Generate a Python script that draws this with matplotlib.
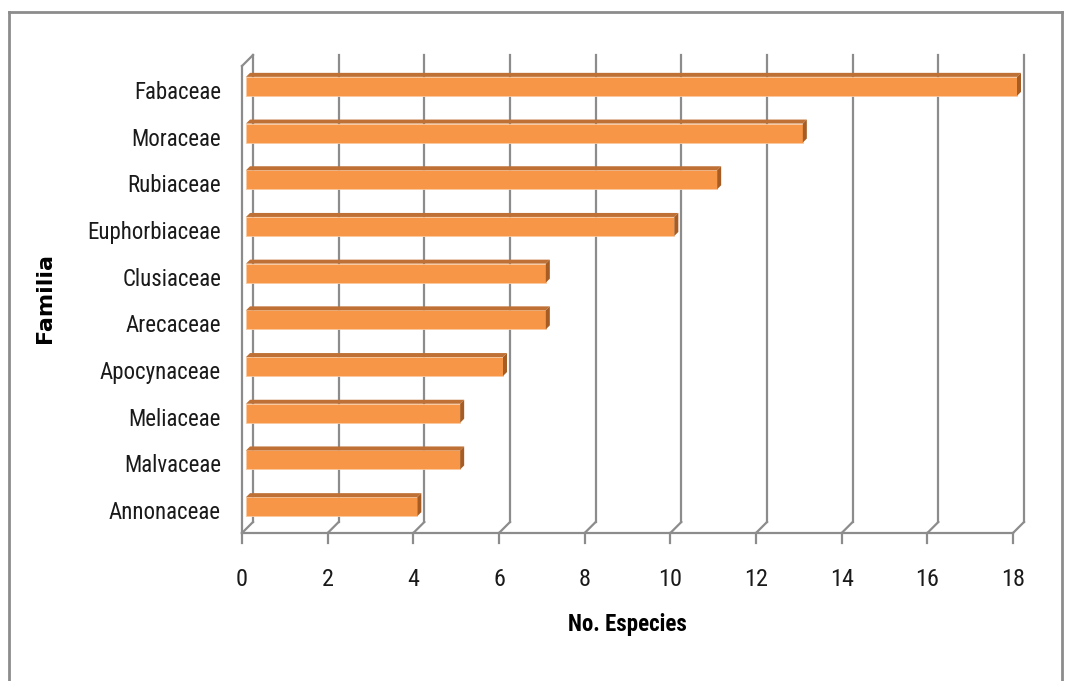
import matplotlib
matplotlib.use("Agg")
import matplotlib.pyplot as plt
from matplotlib.patches import Polygon, Rectangle
from matplotlib.lines import Line2D
from matplotlib import font_manager

# ---- data ----
families = ["Annonaceae", "Malvaceae", "Meliaceae", "Apocynaceae", "Arecaceae",
            "Clusiaceae", "Euphorbiaceae", "Rubiaceae", "Moraceae", "Fabaceae"]
species = [4, 5, 5, 6, 7, 7, 10, 11, 13, 18]
xticks = [0, 2, 4, 6, 8, 10, 12, 14, 16, 18]
xlabel = "No. Especies"
ylabel = "Familia"

# pick a narrow font if any is installed
available = {f.name for f in font_manager.fontManager.ttflist}
narrow = None
for cand in ["Liberation Sans Narrow", "Roboto Condensed", "Open Sans Condensed",
             "Noto Sans Condensed", "DejaVu Sans Condensed"]:
    if cand in available:
        narrow = cand
        break
if narrow is None:
    narrow = "Liberation Sans"
    lab_fs, tick_fs, xl_fs = 13.5, 14, 14
else:
    lab_fs, tick_fs, xl_fs = 16.5, 17.5, 16.5

W, H = 1065, 681
fig = plt.figure(figsize=(W / 100, H / 100), dpi=100)
fig.patch.set_facecolor("white")

left_px, right_px, bottom_px, top_px = 242, 1013, 533, 66
ax = fig.add_axes([left_px / W, 1 - bottom_px / H,
                   (right_px - left_px) / W, (bottom_px - top_px) / H])
ax.set_xlim(0, 18)
ax.set_ylim(-0.5, len(families) - 0.5)
ax.axis("off")

xmin, xmax = 0, 18
ymin, ymax = -0.5, len(families) - 0.5
ppx = (right_px - left_px) / (xmax - xmin)
ppy = (bottom_px - top_px) / (ymax - ymin)

def dx(px):
    return px / ppx

def dy(px):
    return px / ppy

grid_c = "#8C8C8C"
glw = 1.6
D = 11

for t in xticks:
    ax.add_line(Line2D([t + dx(D), t + dx(D)], [ymin + dy(D), ymax + dy(D)],
                       color=grid_c, lw=glw, clip_on=False, zorder=1))
    ax.add_line(Line2D([t, t + dx(D)], [ymin, ymin + dy(D)],
                       color=grid_c, lw=glw, clip_on=False, zorder=1))
    ax.add_line(Line2D([t, t], [ymin, ymin - dy(10)],
                       color=grid_c, lw=glw, clip_on=False, zorder=1))
    ax.text(t, ymin - dy(46), str(t), ha="center", va="center",
            fontsize=tick_fs, family=[narrow, "DejaVu Sans"], color="#1a1a1a")

ax.add_line(Line2D([xmin, xmax], [ymin, ymin], color=grid_c, lw=glw,
                   clip_on=False, zorder=1))
ax.add_line(Line2D([xmin, xmin], [ymin, ymax], color=grid_c, lw=glw,
                   clip_on=False, zorder=1))
ax.add_line(Line2D([xmin, xmin + dx(D)], [ymax, ymax + dy(D)], color=grid_c,
                   lw=glw, clip_on=False, zorder=1))

face_c = "#F79646"
top_c = "#BF7135"
side_c = "#A65C22"
bh = dy(19)
ox, oy = dx(4), dy(3)
d = 4
for i, (fam, v) in enumerate(zip(families, species)):
    y0 = i + oy - bh / 2
    x0 = xmin + ox
    ax.add_patch(Rectangle((x0, y0), v, bh, facecolor=face_c,
                           edgecolor="#FAC9A0", lw=0.6, zorder=3, clip_on=False))
    ax.add_patch(Polygon([(x0, y0 + bh), (x0 + v, y0 + bh),
                          (x0 + v + dx(d), y0 + bh + dy(d)),
                          (x0 + dx(d), y0 + bh + dy(d))],
                         closed=True, facecolor=top_c, edgecolor="none",
                         zorder=3, clip_on=False))
    ax.add_patch(Polygon([(x0 + v, y0), (x0 + v + dx(d), y0 + dy(d)),
                          (x0 + v + dx(d), y0 + bh + dy(d)), (x0 + v, y0 + bh)],
                         closed=True, facecolor=side_c, edgecolor="none",
                         zorder=3, clip_on=False))
    ax.text(xmin - dx(21), i - dy(3), fam, ha="right", va="center", fontsize=lab_fs,
            family=[narrow, "DejaVu Sans"], color="#1a1a1a")

fig.text(627 / W, 1 - 625 / H, xlabel, ha="center", va="center", fontsize=xl_fs,
         fontweight="bold", family=[narrow, "DejaVu Sans"])
fig.text(45 / W, 1 - 298 / H, ylabel, ha="center", va="center", fontsize=16,
         fontweight="bold", rotation=90, family=["DejaVu Sans"])

bc = "#8C8C8C"
fig.add_artist(Line2D([9 / W, 1062 / W], [1 - 12 / H, 1 - 12 / H],
                      transform=fig.transFigure, color=bc, lw=2))
fig.add_artist(Line2D([9 / W, 9 / W], [1 - 12 / H, 0], transform=fig.transFigure,
                      color=bc, lw=2))
fig.add_artist(Line2D([1062 / W, 1062 / W], [1 - 12 / H, 0],
                      transform=fig.transFigure, color=bc, lw=2))

fig.savefig("out.png", dpi=100)
